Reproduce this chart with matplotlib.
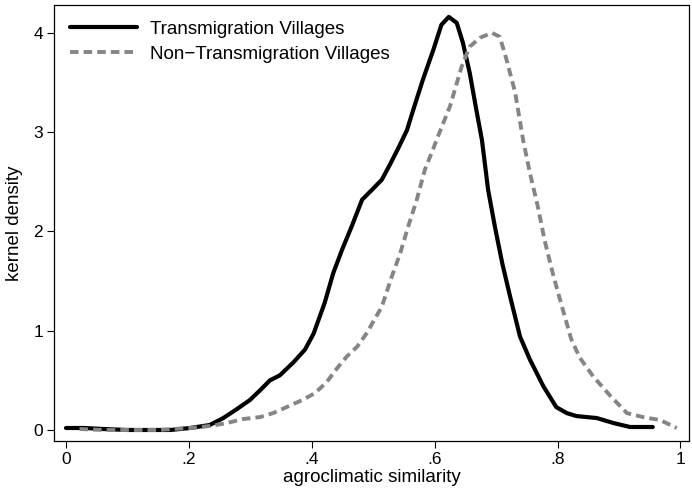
import matplotlib
matplotlib.use("Agg")
import matplotlib.pyplot as plt

# kernel density of agroclimatic similarity
trans_x = [0.0, 0.03, 0.06, 0.10, 0.14, 0.17, 0.202, 0.234, 0.256, 0.278, 0.299,
           0.316, 0.332, 0.348, 0.370, 0.389, 0.403, 0.421, 0.435, 0.449, 0.465,
           0.482, 0.495, 0.514, 0.527, 0.541, 0.555, 0.565, 0.581, 0.598, 0.611,
           0.623, 0.636, 0.646, 0.657, 0.668, 0.677, 0.687, 0.698, 0.710, 0.723,
           0.739, 0.755, 0.777, 0.798, 0.815, 0.831, 0.864, 0.891, 0.918, 0.955]
trans_y = [0.02, 0.02, 0.01, 0.0, 0.0, 0.0, 0.02, 0.05, 0.12, 0.21, 0.30,
           0.40, 0.50, 0.55, 0.68, 0.81, 0.97, 1.28, 1.58, 1.81, 2.05,
           2.32, 2.40, 2.52, 2.67, 2.84, 3.02, 3.22, 3.53, 3.83, 4.08,
           4.16, 4.10, 3.90, 3.60, 3.22, 2.92, 2.42, 2.05, 1.68, 1.34,
           0.94, 0.71, 0.44, 0.23, 0.17, 0.14, 0.12, 0.07, 0.03, 0.03]

nontrans_x = [0.022, 0.06, 0.10, 0.15, 0.202, 0.234, 0.262, 0.288, 0.316, 0.337,
              0.359, 0.384, 0.405, 0.424, 0.441, 0.457, 0.474, 0.490, 0.500, 0.514,
              0.530, 0.544, 0.557, 0.571, 0.584, 0.597, 0.605, 0.625, 0.644, 0.657,
              0.674, 0.693, 0.706, 0.717, 0.731, 0.744, 0.755, 0.768, 0.779, 0.791,
              0.801, 0.812, 0.822, 0.836, 0.858, 0.885, 0.913, 0.939, 0.967, 0.994]
nontrans_y = [0.01, 0.0, 0.0, 0.0, 0.02, 0.04, 0.07, 0.11, 0.13, 0.17,
              0.23, 0.30, 0.37, 0.48, 0.62, 0.74, 0.84, 0.98, 1.09, 1.24,
              1.54, 1.78, 2.05, 2.32, 2.62, 2.82, 2.95, 3.26, 3.66, 3.86,
              3.95, 4.00, 3.96, 3.73, 3.40, 2.92, 2.59, 2.25, 1.91, 1.61,
              1.38, 1.14, 0.92, 0.73, 0.54, 0.35, 0.17, 0.13, 0.10, 0.02]

x_ticks = [0, 0.2, 0.4, 0.6, 0.8, 1.0]
x_labels = ["0", ".2", ".4", ".6", ".8", "1"]
y_ticks = [0, 1, 2, 3, 4]

plt.rcParams['font.family'] = ['Liberation Sans', 'DejaVu Sans']

fig = plt.figure(figsize=(6.92, 4.94), dpi=100)
ax = fig.add_axes([54 / 692, 53 / 494, 635 / 692, 436 / 494])

ax.plot(trans_x, trans_y, color='black', linewidth=3.0,
        solid_capstyle='round', solid_joinstyle='round',
        label='Transmigration Villages')
ax.plot(nontrans_x, nontrans_y, color='#858585', linewidth=2.8,
        linestyle=(0, (2.2, 1.3)), label='Non\u2212Transmigration Villages')

ax.set_xlim(-0.0195, 1.014)
ax.set_ylim(-0.111, 4.28)
ax.set_xticks(x_ticks)
ax.set_xticklabels(x_labels)
ax.set_yticks(y_ticks)
ax.tick_params(direction='out', length=5, width=0.8, labelsize=12.5,
               colors='black', pad=3)

for spine in ax.spines.values():
    spine.set_linewidth(0.9)

ax.set_xlabel('agroclimatic similarity', fontsize=13.5, labelpad=1)
ax.set_ylabel('kernel density', fontsize=13.5, labelpad=7)

# legend sits inside the plot, top left, no frame
ax.legend(loc='upper left', frameon=False, fontsize=13.5, handlelength=3.57,
          handletextpad=0.7, borderaxespad=0.45, labelspacing=0.42)

fig.savefig('out.png', dpi=100)
